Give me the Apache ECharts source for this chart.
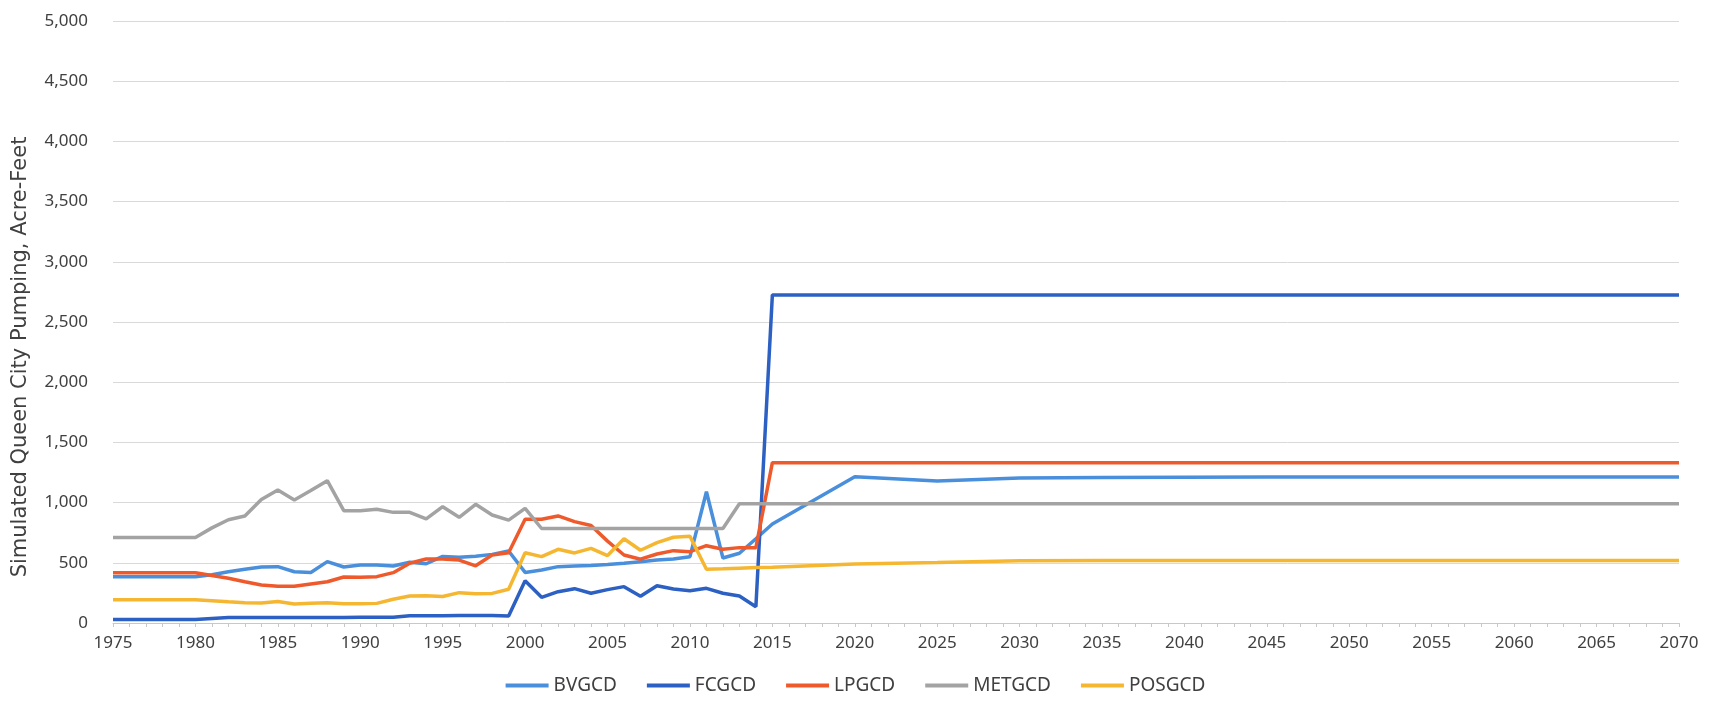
<!DOCTYPE html>
<html>
<head>
<meta charset="utf-8">
<script src="https://cdn.jsdelivr.net/npm/echarts@6/dist/echarts.min.js"></script>
<style>
  html, body { margin: 0; padding: 0; background: #fff; }
  #chart { width: 1711px; height: 702px; }
</style>
</head>
<body>
<div id="chart"></div>
<script>
const years = [1975,1976,1977,1978,1979,1980,1981,1982,1983,1984,1985,1986,1987,1988,1989,
  1990,1991,1992,1993,1994,1995,1996,1997,1998,1999,2000,2001,2002,2003,2004,2005,2006,2007,
  2008,2009,2010,2011,2012,2013,2014,2015,2020,2025,2030,2035,2040,2045,2050,2055,2060,2065,2070];

const BVGCD = [385,385,385,385,385,385,400,426,446,465,468,426,420,510,465,
  482,482,473,505,492,553,546,555,570,598,420,440,468,473,478,485,496,509,
  523,532,551,1090,540,579,700,822,1214,1180,1205,1208,1210,1212,1212,1212,1212,1212,1212];

const FCGCD = [30,30,30,30,30,30,38,45,45,45,45,45,45,45,45,
  48,48,48,60,60,60,62,62,62,58,351,213,260,285,247,277,302,222,
  310,282,268,288,247,224,135,2725,2725,2725,2725,2725,2725,2725,2725,2725,2725,2725,2725];

const LPGCD = [418,418,418,418,418,418,395,371,343,316,305,305,324,343,382,
  380,385,418,496,532,532,523,475,565,584,861,861,889,842,810,680,565,530,
  573,601,592,642,612,626,626,1332,1332,1332,1332,1332,1332,1332,1332,1332,1332,1332,1332];

const METGCD = [710,710,710,710,710,710,790,858,889,1025,1105,1022,1100,1182,933,
  933,944,919,919,865,966,878,986,897,855,952,785,785,785,785,785,785,785,
  785,785,785,785,785,990,990,990,990,990,990,990,990,990,990,990,990,990,990];

const POSGCD = [193,193,193,193,193,193,185,176,169,166,178,158,164,168,160,
  160,163,197,224,227,220,252,243,246,280,584,551,612,582,620,560,700,604,
  667,712,720,446,450,455,460,463,490,502,516,520,520,520,520,520,520,520,520];

const seriesNames = ['BVGCD','FCGCD','LPGCD','METGCD','POSGCD'];
const seriesValues = [BVGCD, FCGCD, LPGCD, METGCD, POSGCD];
const seriesColors = ['#4a8fdb','#2c60c2','#ee5a2c','#a3a3a3','#f5b731'];

const FONT = '"Noto Sans", sans-serif';
const chart = echarts.init(document.getElementById('chart'), null, { renderer: 'canvas' });

chart.setOption({
  backgroundColor: '#ffffff',
  animation: false,
  grid: { left: 113, right: 32, top: 21, bottom: 79, containLabel: false },
  legend: {
    bottom: 2,
    left: 'center',
    icon: 'rect',
    itemWidth: 43,
    itemHeight: 4,
    itemGap: 30,
    textStyle: { fontFamily: FONT, fontSize: 19, color: '#404040' },
    data: seriesNames
  },
  xAxis: {
    type: 'value',
    min: 1975,
    max: 2070,
    interval: 5,
    axisLine: { show: true, lineStyle: { color: '#c8c8c8', width: 1 } },
    axisTick: { show: true, length: 4, lineStyle: { color: '#c8c8c8' } },
    minorTick: { show: true, splitNumber: 5, length: 4, lineStyle: { color: '#c8c8c8' } },
    splitLine: { show: false },
    axisLabel: {
      margin: 12,
      fontFamily: FONT, fontSize: 17, color: '#404040',
      formatter: v => String(v)
    }
  },
  yAxis: {
    type: 'value',
    min: 0,
    max: 5000,
    interval: 500,
    name: 'Simulated Queen City Pumping, Acre-Feet',
    nameLocation: 'middle',
    nameGap: 82,
    nameTextStyle: {
      fontFamily: '"DejaVu Sans", sans-serif', fontSize: 21, color: '#404040',
      padding: [0, 70, 0, 0]
    },
    axisLine: { show: false },
    axisTick: { show: false },
    splitLine: { show: true, lineStyle: { color: '#d9d9d9', width: 1 } },
    axisLabel: {
      margin: 25,
      fontFamily: FONT, fontSize: 17, color: '#404040',
      formatter: v => v.toLocaleString('en-US')
    }
  },
  series: seriesNames.map((name, i) => ({
    name: name,
    type: 'line',
    symbol: 'none',
    smooth: false,
    color: seriesColors[i],
    lineStyle: { width: 3.5, color: seriesColors[i] },
    data: years.map((y, j) => [y, seriesValues[i][j]])
  }))
});
</script>
</body>
</html>
